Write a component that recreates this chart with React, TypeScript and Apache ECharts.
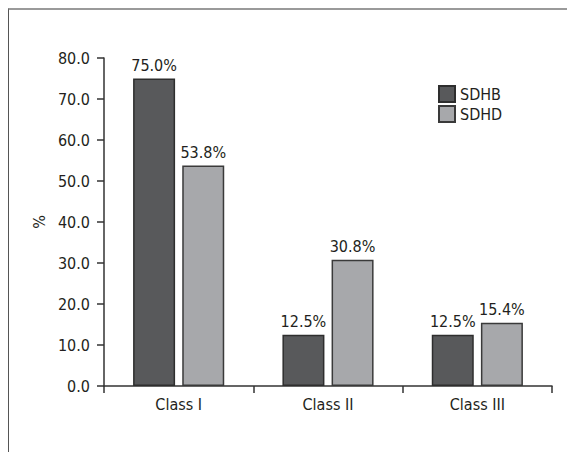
import React, { useEffect, useRef } from "react";
import * as echarts from "echarts";

const categories = ["Class I", "Class II", "Class III"];
const sdhbValues = [75.0, 12.5, 12.5];
const sdhdValues = [53.8, 30.8, 15.4];
const seriesNames = ["SDHB", "SDHD"];
const yTicks = { min: 0, max: 80, interval: 10 };

const FONT = "'Liberation Sans Narrow', 'DejaVu Sans Condensed', 'Arial Narrow', sans-serif";
const TEXT = "#231f20";

export default function App() {
  const ref = useRef<HTMLDivElement>(null);
  useEffect(() => {
    if (!ref.current) return;
    const chart = echarts.init(ref.current, undefined, { renderer: "svg" });
    const label = {
      show: true,
      position: "top" as const,
      distance: 5,
      fontFamily: FONT,
      fontSize: 16,
      color: TEXT,
      formatter: (p: any) => Number(p.value).toFixed(1) + "%",
    };
    chart.setOption({
      animation: false,
      textStyle: { fontFamily: FONT },
      grid: { left: 95, top: 48, right: 23, bottom: 66, containLabel: false },
      legend: {
        orient: "vertical",
        left: 424,
        top: 70,
        itemWidth: 16,
        itemHeight: 16,
        itemGap: 2,
        icon: "rect",
        textStyle: { fontFamily: FONT, fontSize: 16, color: TEXT },
        data: seriesNames,
      },
      xAxis: {
        type: "category",
        data: categories,
        axisLine: { lineStyle: { color: "#333", width: 1.5 } },
        axisTick: { show: true, length: 7, lineStyle: { color: "#333", width: 1.5 } },
        axisLabel: { margin: 10, fontFamily: FONT, fontSize: 16, color: TEXT },
      },
      yAxis: {
        type: "value",
        min: yTicks.min,
        max: yTicks.max,
        interval: yTicks.interval,
        name: "%",
        nameLocation: "middle",
        nameGap: 54,
        nameTextStyle: { fontFamily: FONT, fontSize: 16, color: TEXT },
        axisLine: { show: true, lineStyle: { color: "#333", width: 1.5 } },
        axisTick: { show: true, length: 7, lineStyle: { color: "#333", width: 1.5 } },
        splitLine: { show: false },
        axisLabel: {
          margin: 14,
          fontFamily: FONT,
          fontSize: 16,
          color: TEXT,
          formatter: (v: number) => v.toFixed(1),
        },
      },
      series: [
        {
          name: seriesNames[0],
          type: "bar",
          data: sdhbValues,
          barWidth: 42,
          barGap: "17%",
          itemStyle: { color: "#58595b", borderColor: "#2e2e2e", borderWidth: 1.5 },
          label,
        },
        {
          name: seriesNames[1],
          type: "bar",
          data: sdhdValues,
          barWidth: 42,
          itemStyle: { color: "#a7a8ab", borderColor: "#3a3a3a", borderWidth: 1.5 },
          label,
        },
      ],
    });
    return () => chart.dispose();
  }, []);
  return (
    <div
      style={{
        width: 567,
        height: 444,
        borderTop: "2px solid #9a9a9a",
        borderLeft: "1px solid #555",
        boxSizing: "border-box",
        overflow: "hidden",
      }}
    >
      <div ref={ref} style={{ width: 566, height: 442 }} />
    </div>
  );
}
